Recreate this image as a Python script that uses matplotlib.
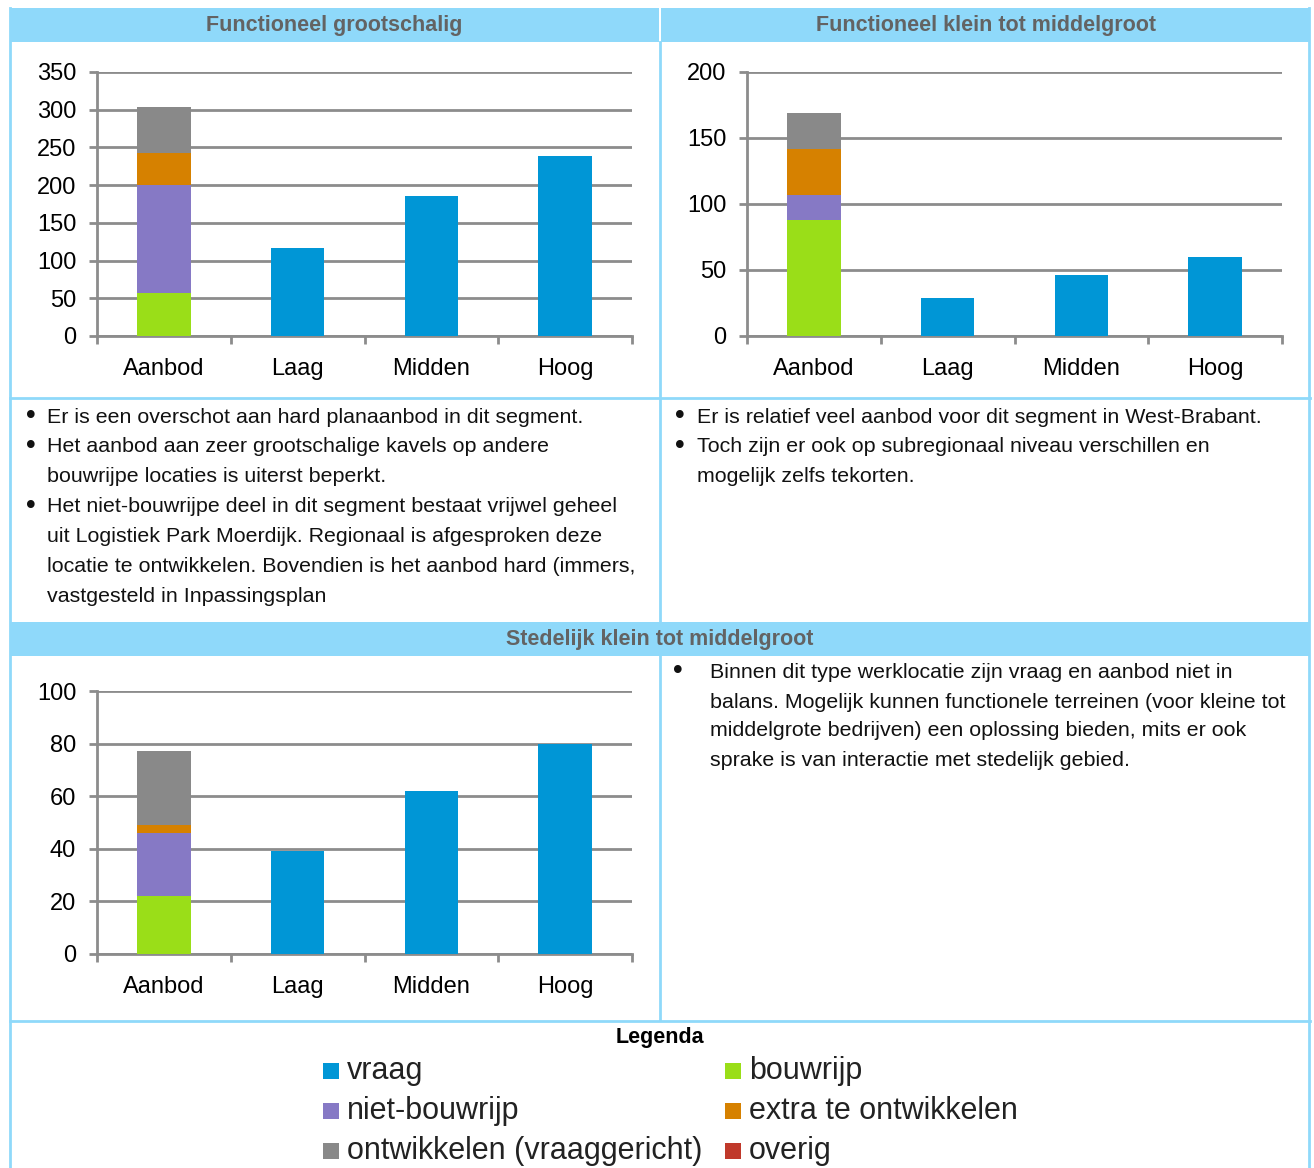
import numpy as np
import matplotlib
matplotlib.use('Agg')
import matplotlib.pyplot as plt
from matplotlib.patches import Rectangle

W, H = 1314, 1168

categories = ['Aanbod', 'Laag', 'Midden', 'Hoog']
# stacked Aanbod pieces: bouwrijp, niet-bouwrijp, extra te ontwikkelen, ontwikkelen (vraaggericht)
groot_aanbod = [57, 143, 42, 62]
groot_vraag = [117, 185, 239]
klein_aanbod = [88, 19, 35, 27]
klein_vraag = [29, 46, 60]
stad_aanbod = [22, 24, 3, 28]
stad_vraag = [39, 62, 80]

legend_labels = ['vraag', 'bouwrijp', 'niet-bouwrijp', 'extra te ontwikkelen',
                 'ontwikkelen (vraaggericht)', 'overig']

c_vraag = '#0096d6'
c_stack = ['#9ade18', '#8679c5', '#d68100', '#898989']
c_overig = '#c0392b'
legend_colors = [c_vraag, c_stack[0], c_stack[1], c_stack[2], c_stack[3], c_overig]
head_bg = '#8fd9fa'
line_c = '#8fd9fa'

plt.rcParams['font.family'] = ['Liberation Sans', 'DejaVu Sans']

fig = plt.figure(figsize=(W / 100, H / 100), dpi=100)


def fx(x):
    return x / W


def fy(y):
    return 1 - y / H


def hline(y, x0, x1):
    fig.add_artist(plt.Line2D([fx(x0), fx(x1)], [fy(y), fy(y)], color=line_c, lw=2))


def vline(x, y0, y1):
    fig.add_artist(plt.Line2D([fx(x), fx(x)], [fy(y0), fy(y1)], color=line_c, lw=2))


def header(x0, x1, y0, y1, text):
    fig.add_artist(Rectangle((fx(x0), fy(y1)), fx(x1 - x0), (y1 - y0) / H,
                             facecolor=head_bg, edgecolor='none'))
    fig.text(fx((x0 + x1) / 2), fy((y0 + y1) / 2 + 1), text, ha='center', va='center',
             fontsize=15.5, fontweight='bold', color='#636363')


def chart(x0, x1, y0, y1, aanbod, vraag, ymax, step):
    ax = fig.add_axes([fx(x0), fy(y1), fx(x1 - x0), (y1 - y0) / H])
    bottom = 0
    for v, c in zip(aanbod, c_stack):
        ax.bar(0, v, bottom=bottom, width=0.4, color=c, zorder=3)
        bottom += v
    ax.bar([1, 2, 3], vraag, width=0.4, color=c_vraag, zorder=3)
    ax.set_xlim(-0.5, 3.5)
    ax.set_ylim(0, ymax)
    ax.set_yticks(np.arange(0, ymax + 1, step))
    ax.yaxis.grid(True, color='#8c8c8c', lw=2, zorder=1)
    ax.set_xticks([-0.5, 0.5, 1.5, 2.5, 3.5])
    ax.set_xticklabels([])
    ax.set_xticks([0, 1, 2, 3], minor=True)
    ax.set_xticklabels(categories, minor=True, fontsize=17)
    ax.tick_params(axis='x', which='minor', length=0, pad=15.5)
    ax.tick_params(axis='x', which='major', length=6, width=2, color='#8c8c8c')
    ax.tick_params(axis='y', length=6, width=2, color='#8c8c8c', labelsize=17, pad=9)
    for s in ['top', 'right']:
        ax.spines[s].set_visible(False)
    for s in ['left', 'bottom']:
        ax.spines[s].set_color('#8c8c8c')
        ax.spines[s].set_linewidth(2)
    ax.set_facecolor('none')
    return ax


def bullets(xb, xt, ys, lines, starts):
    for y, t, b in zip(ys, lines, starts):
        if b:
            fig.text(fx(xb), fy(y), '\u2022', ha='center', va='center', fontsize=19,
                     color='#111111', family='DejaVu Sans')
        fig.text(fx(xt), fy(y), t, ha='left', va='center', fontsize=15.4,
                 color='#111111')


# frame lines
vline(10, 8, 1168)
vline(1309, 8, 1168)
vline(660, 42, 622)
vline(660, 655, 1020)
hline(398, 10, 1310)
hline(1021, 10, 1310)

header(10, 659, 8, 42, 'Functioneel grootschalig')
header(661, 1310, 8, 42, 'Functioneel klein tot middelgroot')
header(10, 1310, 622, 656, 'Stedelijk klein tot middelgroot')

chart(97, 632, 72, 336, groot_aanbod, groot_vraag, 350, 50)
chart(747, 1282, 72, 336, klein_aanbod, klein_vraag, 200, 50)
chart(97, 632, 691, 954, stad_aanbod, stad_vraag, 100, 20)

left_lines = [
    'Er is een overschot aan hard planaanbod in dit segment.',
    'Het aanbod aan zeer grootschalige kavels op andere',
    'bouwrijpe locaties is uiterst beperkt.',
    'Het niet-bouwrijpe deel in dit segment bestaat vrijwel geheel',
    'uit Logistiek Park Moerdijk. Regionaal is afgesproken deze',
    'locatie te ontwikkelen. Bovendien is het aanbod hard (immers,',
    'vastgesteld in Inpassingsplan',
]
bullets(31, 47, [417, 447, 476, 507, 536, 566, 596], left_lines,
        [1, 1, 0, 1, 0, 0, 0])

right_lines = [
    'Er is relatief veel aanbod voor dit segment in West-Brabant.',
    'Toch zijn er ook op subregionaal niveau verschillen en',
    'mogelijk zelfs tekorten.',
]
bullets(680, 697, [417, 447, 476], right_lines, [1, 1, 0])

stad_lines = [
    'Binnen dit type werklocatie zijn vraag en aanbod niet in',
    'balans. Mogelijk kunnen functionele terreinen (voor kleine tot',
    'middelgrote bedrijven) een oplossing bieden, mits er ook',
    'sprake is van interactie met stedelijk gebied.',
]
bullets(678, 710, [672, 702, 731, 761], stad_lines, [1, 0, 0, 0])

# legend
fig.text(fx(660), fy(1038), 'Legenda', ha='center', va='center', fontsize=15.5,
         fontweight='bold', color='black')
leg_x = [323, 725]
leg_y = [1071, 1111, 1151]
for i, (lab, col) in enumerate(zip(legend_labels, legend_colors)):
    x = leg_x[i % 2]
    y = leg_y[i // 2]
    fig.add_artist(Rectangle((fx(x), fy(y + 8)), fx(16), 16 / H,
                             facecolor=col, edgecolor='none'))
    fig.text(fx(x + 24), fy(y), lab, ha='left', va='center', fontsize=22,
             color='#222222')

fig.savefig('out.png', dpi=100)
